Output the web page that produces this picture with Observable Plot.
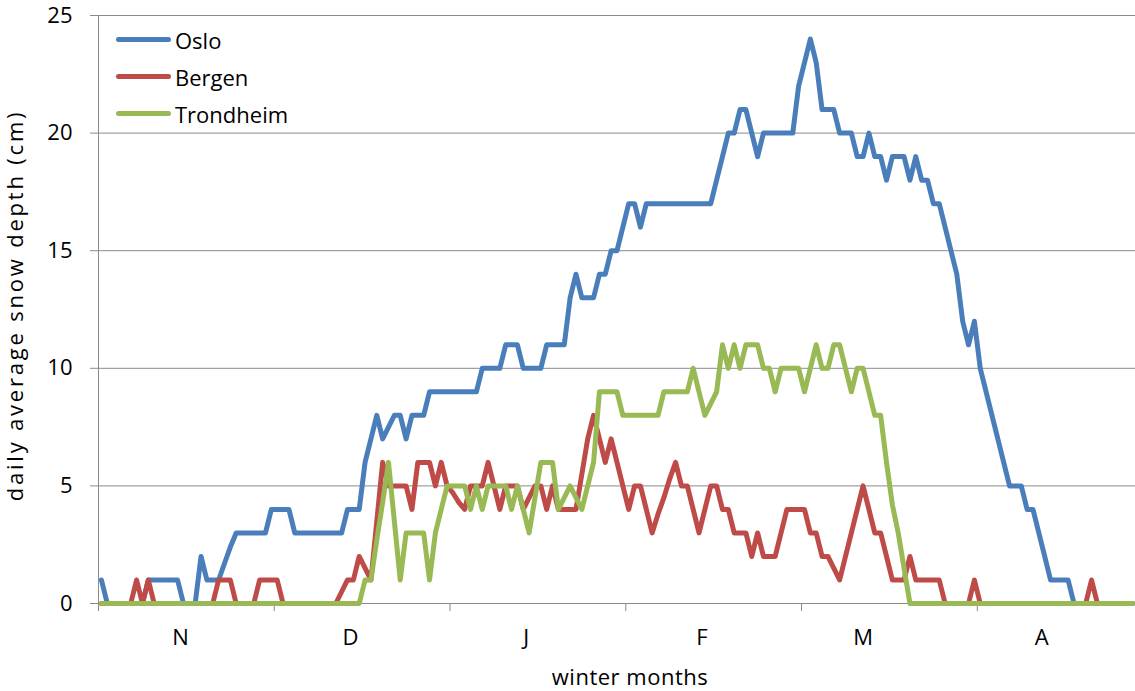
<!DOCTYPE html>
<html><head><meta charset="utf-8">
<script src="https://cdn.jsdelivr.net/npm/d3@7"></script>
<script src="https://cdn.jsdelivr.net/npm/@observablehq/plot@0.6"></script>
<style>
body{margin:0;background:#fff;}
#wrap{position:relative;width:1135px;height:691px;font-family:"Open Sans",sans-serif;}
#legend{position:absolute;left:116px;top:21px;font-size:22px;color:#000;}
#legend .row{display:flex;align-items:center;height:37px;}
#legend .sw{display:inline-block;width:55px;height:5px;border-radius:3px;margin-right:4px;}
</style></head><body><div id="wrap"></div>
<script>
const oslo = [1,0,0,0,0,0,0,0,1,1,
 1,1,1,1,0,0,0,2,1,1,
 1,1.7,2.4,3,3,3,3,3,3,4,
 4,4,4,3,3,3,3,3,3,3,
 3,3,4,4,4,6,7,8,7,7.5,
 8,8,7,8,8,8,9,9,9,9,
 9,9,9,9,9,10,10,10,10,11,
 11,11,10,10,10,10,11,11,11,11,
 13,14,13,13,13,14,14,15,15,16,
 17,17,16,17,17,17,17,17,17,17,
 17,17,17,17,17,18,19,20,20,21,
 21,20,19,20,20,20,20,20,20,22,
 23,24,23,21,21,21,20,20,20,19,
 19,20,19,19,18,19,19,19,18,19,
 18,18,17,17,16,15,14,12,11,12,
 10,9,8,7,6,5,5,5,4,4,
 3,2,1,1,1,1,0,0,0,0,
 0,0,0,0,0,0,0];
const bergen = [0,0,0,0,0,0,1,0,1,0,
 0,0,0,0,0,0,0,0,0,0,
 1,1,1,0,0,0,0,1,1,1,
 1,0,0,0,0,0,0,0,0,0,
 0,0.5,1,1,2,1.5,1,3.5,6,5,
 5,5,5,4,6,6,6,5,6,5,
 4.7,4.3,4,5,5,5,6,5,4,5,
 5,5,4,4.5,5,5,4,5,4,4,
 4,4,5.5,7,8,7,6,7,6,5,
 4,5,5,4,3,3.8,4.5,5.3,6,5,
 5,4,3,4,5,5,4,4,3,3,
 3,2,3,2,2,2,3,4,4,4,
 4,3,3,2,2,1.5,1,2,3,4,
 5,4,3,3,2,1,1,1,2,1,
 1,1,1,1,0,0,0,0,0,1,
 0,0,0,0,0,0,0,0,0,0,
 0,0,0,0,0,0,0,0,0,1,
 0,0,0,0,0,0,0];
const trondheim = [0,0,0,0,0,0,0,0,0,0,
 0,0,0,0,0,0,0,0,0,0,
 0,0,0,0,0,0,0,0,0,0,
 0,0,0,0,0,0,0,0,0,0,
 0,0,0,0,0,1,1,2.7,4.3,6,
 3.5,1,3,3,3,3,1,3,4,5,
 5,5,5,4,5,4,5,5,5,5,
 4,5,4,3,4.5,6,6,6,4,4.5,
 5,4.5,4,5,6,9,9,9,9,8,
 8,8,8,8,8,8,9,9,9,9,
 9,10,9,8,8.5,9,11,10,11,10,
 11,11,11,10,10,9,10,10,10,10,
 9,10,11,10,10,11,11,10,9,10,
 10,9,8,8,6,4.2,3,1.5,0,0,
 0,0,0,0,0,0,0,0,0,0,
 0,0,0,0,0,0,0,0,0,0,
 0,0,0,0,0,0,0,0,0,0,
 0,0,0,0,0,0,0];

const cities = ["Oslo", "Bergen", "Trondheim"];
const cityColors = ["#4a7ebb", "#be4b48", "#98b954"];
const yTicks = [0, 5, 10, 15, 20, 25];
const monthBoundaries = [0, 30, 60, 90, 120, 150];
const monthLabels = ["N", "D", "J", "F", "M", "A"];
const monthLabelPos = [14, 43, 73, 103, 130.5, 161];
const yTitle = "daily average snow depth (cm)";
const xTitle = "winter months";

const rows = [];
[oslo, bergen, trondheim].forEach((arr, s) =>
  arr.forEach((v, i) => rows.push({city: cities[s], day: i + 0.5, depth: v})));

const gray = "#8a8a8a";
const chart = Plot.plot({
  width: 1135, height: 691,
  marginLeft: 98, marginRight: 0, marginTop: 15, marginBottom: 88,
  style: {fontFamily: "'Open Sans', sans-serif", fontSize: "22px", color: "#000", background: "#fff", overflow: "visible"},
  x: {type: "linear", domain: [0, oslo.length]},
  y: {domain: [0, 25]},
  color: {domain: cities, range: cityColors},
  marks: [
    Plot.gridY(yTicks, {stroke: gray, strokeOpacity: 1, strokeWidth: 1}),
    Plot.axisY(yTicks, {tickSize: 8, tickPadding: 18, stroke: gray, strokeOpacity: 1, label: null, fill: "#000"}),
    Plot.ruleX([0], {stroke: gray, strokeWidth: 1}),
    Plot.axisX(monthBoundaries, {tickSize: 8, tickFormat: () => "", stroke: gray, strokeOpacity: 1, label: null}),
    Plot.axisX(monthLabelPos, {tickSize: 0, tickPadding: 26, tickFormat: d => monthLabels[monthLabelPos.indexOf(d)], label: null, fill: "#000"}),
    Plot.line(rows, {x: "day", y: "depth", z: "city", stroke: "city", strokeWidth: 5, strokeLinejoin: "round", strokeLinecap: "round"}),
    Plot.text([xTitle], {frameAnchor: "bottom", lineAnchor: "middle", textAnchor: "middle", dy: 74, dx: 13, fill: "#000"}),
    Plot.text([yTitle], {frameAnchor: "left", rotate: -90, textAnchor: "middle", lineAnchor: "middle", dx: -83, dy: -4, fill: "#000"})
  ]
});
const wrap = document.getElementById("wrap");
wrap.appendChild(chart);
d3.select(chart).selectAll("text").filter(function() { return this.textContent === yTitle; })
  .style("letter-spacing", "2.8px");
d3.select(chart).selectAll("text").filter(function() { return this.textContent === xTitle; })
  .style("letter-spacing", "0.5px");
const legend = document.createElement("div");
legend.id = "legend";
cities.forEach((c, i) => {
  const row = document.createElement("div");
  row.className = "row";
  const sw = document.createElement("span");
  sw.className = "sw";
  sw.style.background = cityColors[i];
  row.appendChild(sw);
  row.appendChild(document.createTextNode(c));
  legend.appendChild(row);
});
wrap.appendChild(legend);
</script></body></html>
